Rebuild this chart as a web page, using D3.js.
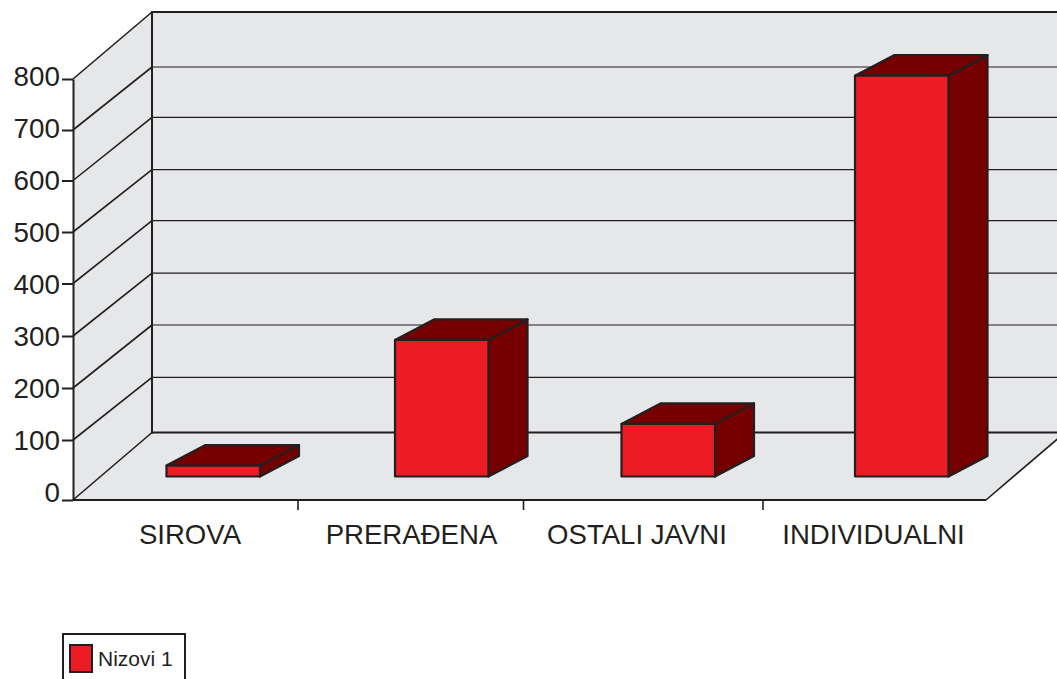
<!DOCTYPE html>
<html>
<head>
<meta charset="utf-8">
<script src="https://cdn.jsdelivr.net/npm/d3@7"></script>
<style>
  html, body { margin: 0; padding: 0; background: #fff; overflow: hidden; }
  svg { display: block; }
  text { font-family: "Liberation Sans", sans-serif; fill: #231f20; }
</style>
</head>
<body>
<script>
// Data
var categories = ["SIROVA", "PRERAĐENA", "OSTALI JAVNI", "INDIVIDUALNI"];
var values = [21, 262, 101, 769];
var yTicks = [0, 100, 200, 300, 400, 500, 600, 700, 800];
var seriesName = "Nizovi 1";

var w = 1057, h = 679;
var ink = "#231f20", wall = "#e6e7e8", red = "#ed1c24", dark = "#760000";

// The box in pixels: front-left corner and how far back the walls go
var left = 73, floorY = 500, backX = 152, backFloorY = 432.5, frontRight = 986;
var depthX = backX - left, depthY = floorY - backFloorY;

// Gridlines are not quite evenly spaced in the picture, so piecewise scales
var yFront = d3.scaleLinear().domain(yTicks)
  .range([500, 440, 388, 336, 283.5, 232, 180.5, 130, 79]);
var yBack = d3.scaleLinear().domain(yTicks)
  .range([432.5, 377.3, 325, 273.2, 220.7, 169.6, 117.3, 67, 12]);
var yLabel = d3.scaleLinear().domain([0, 800]).range([493, 77]);

var barHeight = d3.scaleLinear().domain([0, 800]).range([0, 417]);
var barX = d3.scaleOrdinal().domain(categories).range([166.5, 395, 621.5, 855]);
var labelX = d3.scaleOrdinal().domain(categories).range([190, 411.5, 637, 873.5]);
var tickX = d3.scaleOrdinal().domain(categories).range([298, 523.5, 763]);
var barW = 93.5, barDx = 39, barDy = 20.5, barBase = 476.5;

var svg = d3.select("body").append("svg").attr("width", w).attr("height", h);
var line = d3.line();

// walls and floor
svg.append("path")
  .attr("d", line([[backX, 12], [w + 20, 12], [w + 20, backFloorY], [backX, backFloorY]]) + "Z")
  .attr("fill", wall);
svg.append("path")
  .attr("d", line([[left, yFront(800)], [backX, 12], [backX, backFloorY], [left, floorY]]) + "Z")
  .attr("fill", wall);
svg.append("path")
  .attr("d", line([[left, floorY], [backX, backFloorY], [frontRight + depthX, backFloorY], [frontRight, floorY]]) + "Z")
  .attr("fill", wall);

// gridlines on back wall and their run down the side wall
svg.selectAll(".grid").data(yTicks).enter().append("line")
  .attr("class", "grid")
  .attr("x1", backX).attr("x2", w)
  .attr("y1", function (d) { return yBack(d); })
  .attr("y2", function (d) { return yBack(d); })
  .attr("stroke", ink)
  .attr("stroke-width", function (d) { return d == 0 || d == 800 ? 2 : 1.2; });
svg.selectAll(".side").data(yTicks).enter().append("line")
  .attr("class", "side")
  .attr("x1", left).attr("x2", backX)
  .attr("y1", function (d) { return yFront(d); })
  .attr("y2", function (d) { return yBack(d); })
  .attr("stroke", ink).attr("stroke-width", 1.6);

// back wall left edge
svg.append("line").attr("x1", backX).attr("x2", backX).attr("y1", 11).attr("y2", backFloorY + 1)
  .attr("stroke", ink).attr("stroke-width", 2);

// floor edges
svg.append("line").attr("x1", left).attr("x2", frontRight).attr("y1", floorY).attr("y2", floorY)
  .attr("stroke", ink).attr("stroke-width", 2);
svg.append("line").attr("x1", frontRight).attr("x2", frontRight + depthX).attr("y1", floorY).attr("y2", backFloorY)
  .attr("stroke", ink).attr("stroke-width", 1.6);

// y axis, ticks on the box and labels on their own scale
svg.append("g").attr("transform", "translate(" + left + ",0)")
  .call(d3.axisLeft(yFront).tickValues(yTicks).tickSize(11).tickSizeOuter(0).tickFormat(""))
  .call(function (g) {
    g.select(".domain").attr("stroke", ink).attr("stroke-width", 2);
    g.selectAll(".tick line").attr("stroke", ink).attr("stroke-width", 2);
  });
svg.append("g").attr("transform", "translate(60,0)")
  .call(d3.axisLeft(yLabel).tickValues(yTicks).tickSize(0).tickPadding(0))
  .call(function (g) {
    g.select(".domain").remove();
    g.selectAll("text").attr("font-size", 27.8).attr("fill", ink)
      .style("font-family", '"Liberation Sans", sans-serif');
  });

// x ticks and labels
svg.selectAll(".xtick").data(categories.slice(0, 3)).enter().append("line")
  .attr("class", "xtick")
  .attr("x1", function (d) { return tickX(d); })
  .attr("x2", function (d) { return tickX(d); })
  .attr("y1", floorY).attr("y2", floorY + 10)
  .attr("stroke", ink).attr("stroke-width", 1.6);
svg.selectAll(".xlabel").data(categories).enter().append("text")
  .attr("class", "xlabel")
  .attr("x", function (d) { return labelX(d); })
  .attr("y", 544)
  .attr("text-anchor", "middle")
  .attr("font-size", 27.6)
  .text(function (d) { return d; });

// bars: side, top, front
var bars = svg.selectAll(".bar")
  .data(categories.map(function (c, i) { return { name: c, value: values[i] }; }))
  .enter().append("g").attr("class", "bar")
  .attr("stroke", ink).attr("stroke-width", 2.2).attr("stroke-linejoin", "round");

bars.append("path").attr("fill", dark).attr("d", function (d) {
  var x = barX(d.name) + barW, t = barBase - barHeight(d.value);
  return line([[x, t], [x + barDx, t - barDy], [x + barDx, barBase - barDy], [x, barBase]]) + "Z";
});
bars.append("path").attr("fill", dark).attr("d", function (d) {
  var x = barX(d.name), t = barBase - barHeight(d.value);
  return line([[x, t], [x + barDx, t - barDy], [x + barW + barDx, t - barDy], [x + barW, t]]) + "Z";
});
bars.append("rect").attr("fill", red)
  .attr("x", function (d) { return barX(d.name); })
  .attr("y", function (d) { return barBase - barHeight(d.value); })
  .attr("width", barW)
  .attr("height", function (d) { return barHeight(d.value); });

// legend, the box runs off the bottom of the page
svg.append("rect").attr("x", 63).attr("y", 634).attr("width", 122).attr("height", 60)
  .attr("fill", "#fff").attr("stroke", ink).attr("stroke-width", 2);
svg.append("rect").attr("x", 70).attr("y", 645).attr("width", 22).attr("height", 27)
  .attr("fill", red).attr("stroke", ink).attr("stroke-width", 2);
svg.append("text").attr("x", 98).attr("y", 666).attr("font-size", 21).text(seriesName);
</script>
</body>
</html>
